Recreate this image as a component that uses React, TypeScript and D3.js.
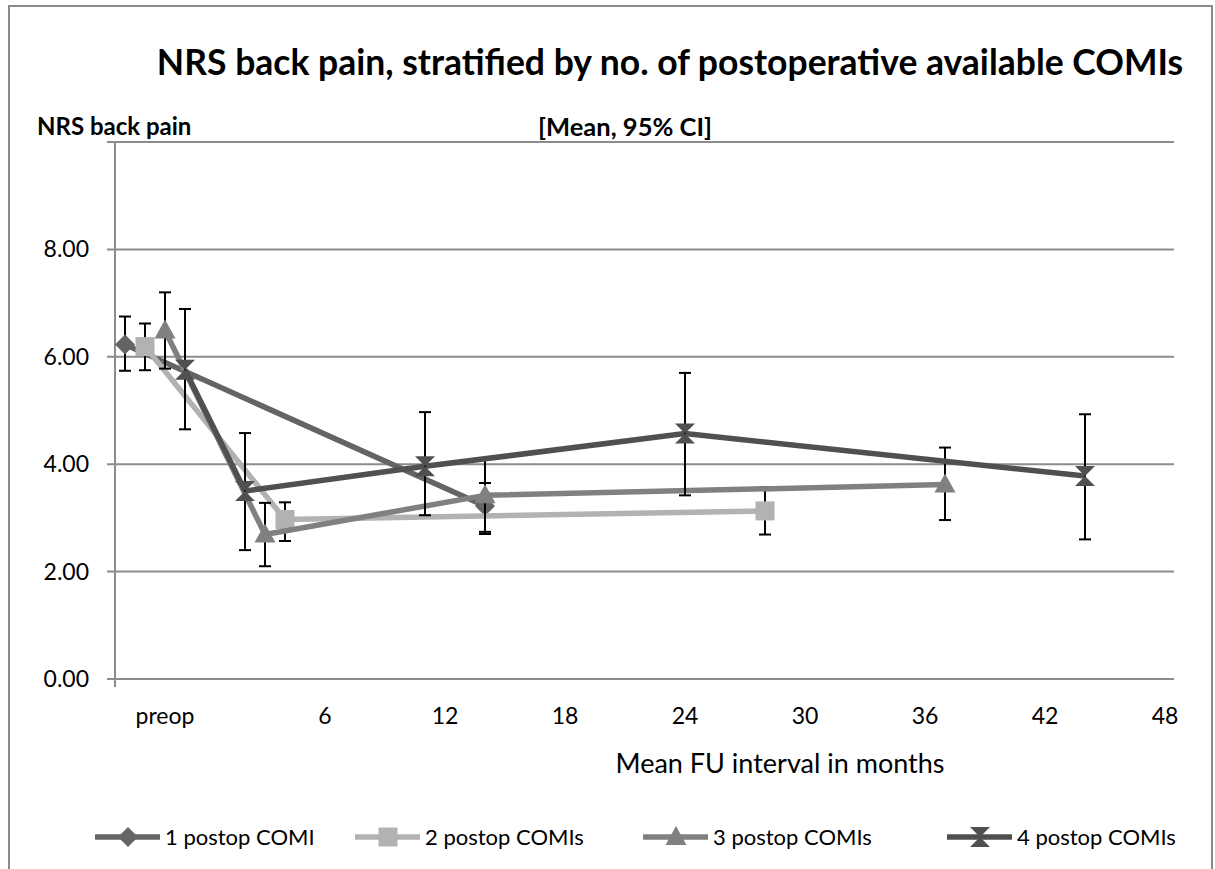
import React from "react"
import * as d3 from "d3"

// months after surgery; preop values are staggered left of zero
const s1X = [-4, 14]
const s1Mean = [6.23, 3.22]
const s1Lo = [5.74, 2.74]
const s1Hi = [6.75, 3.65]

const s2X = [-3, 4, 28]
const s2Mean = [6.19, 2.97, 3.13]
const s2Lo = [5.75, 2.57, 2.69]
const s2Hi = [6.62, 3.29, 3.57]

const s3X = [-2, 3, 14, 37]
const s3Mean = [6.49, 2.69, 3.42, 3.62]
const s3Lo = [5.78, 2.1, 2.7, 2.96]
const s3Hi = [7.2, 3.28, 4.1, 4.31]

const s4X = [-1, 2, 11, 24, 44]
const s4Mean = [5.76, 3.5, 3.96, 4.57, 3.78]
const s4Lo = [4.65, 2.4, 3.05, 3.42, 2.6]
const s4Hi = [6.89, 4.58, 4.97, 5.7, 4.93]

const seriesNames = ["1 postop COMI", "2 postop COMIs", "3 postop COMIs", "4 postop COMIs"]
const xTickValues = [-2, 6, 12, 18, 24, 30, 36, 42, 48]
const xTickLabels = ["preop", "6", "12", "18", "24", "30", "36", "42", "48"]
const yTickValues = [0, 2, 4, 6, 8]
const yGridValues = [0, 2, 4, 6, 8, 10]

const FONT = "Lato, 'Open Sans', sans-serif"

type Marker = "diamond" | "square" | "triangle" | "hourglass"

const styles: { color: string; marker: Marker }[] = [
  { color: "#646464", marker: "diamond" },
  { color: "#b2b2b2", marker: "square" },
  { color: "#808080", marker: "triangle" },
  { color: "#505050", marker: "hourglass" },
]

const makeSeries = (xs: number[], m: number[], lo: number[], hi: number[]) =>
  xs.map((x, i) => ({ x, mean: m[i], lo: lo[i], hi: hi[i] }))

const series = [
  makeSeries(s1X, s1Mean, s1Lo, s1Hi),
  makeSeries(s2X, s2Mean, s2Lo, s2Hi),
  makeSeries(s3X, s3Mean, s3Lo, s3Hi),
  makeSeries(s4X, s4Mean, s4Lo, s4Hi),
]

const markerPath = (kind: Marker, cx: number, cy: number) => {
  switch (kind) {
    case "diamond":
      return `M${cx},${cy - 10}L${cx + 10},${cy}L${cx},${cy + 10}L${cx - 10},${cy}Z`
    case "square":
      return `M${cx - 9.5},${cy - 9.5}h19v19h-19Z`
    case "triangle":
      return `M${cx},${cy - 11}L${cx + 10.5},${cy + 8}L${cx - 10.5},${cy + 8}Z`
    case "hourglass":
      return `M${cx - 10},${cy - 10}L${cx + 10},${cy - 10}L${cx},${cy}L${cx + 10},${cy + 10}L${cx - 10},${cy + 10}L${cx},${cy}Z`
  }
}

export default function App() {
  const W = 1215
  const H = 869
  const left = 115
  const right = 1174
  const top = 142
  const bottom = 679

  const x = d3.scaleLinear().domain([-4.5, 48.45]).range([left, right])
  const y = d3.scaleLinear().domain([0, 10]).range([bottom, top])
  const line = d3
    .line<{ x: number; mean: number }>()
    .x((d) => x(d.x))
    .y((d) => y(d.mean))

  const legendX = [95, 355, 643, 947]
  const legendY = 837

  return (
    <svg
      width={W}
      height={H}
      style={{ position: "absolute", left: 0, top: 0, background: "#fff" }}
      fontFamily={FONT}
    >
      <rect x={9} y={6} width={1203} height={H + 20} fill="#fff" stroke="#8a8a8a" strokeWidth={2} />

      <text x={670} y={75} textAnchor="middle" fontSize={35.5} fontWeight="bold" fill="#000">
        NRS back pain, stratified by no. of postoperative available COMIs
      </text>
      <text x={37} y={135} fontSize={24} fontWeight="bold" fill="#000">
        NRS back pain
      </text>
      <text x={625} y={136} textAnchor="middle" fontSize={25.5} fontWeight="bold" fill="#000">
        [Mean, 95% CI]
      </text>

      {yGridValues.map((v) => (
        <line key={v} x1={left - 8} x2={right} y1={y(v)} y2={y(v)} stroke="#8c8c8c" strokeWidth={2} />
      ))}
      <line x1={left} x2={left} y1={top} y2={bottom + 8} stroke="#8c8c8c" strokeWidth={2} />

      {yTickValues.map((v) => (
        <text key={v} x={89} y={y(v) + 8} textAnchor="end" fontSize={23} fill="#000">
          {v.toFixed(2)}
        </text>
      ))}
      {xTickValues.map((v, i) => (
        <text key={v} x={x(v)} y={724} textAnchor="middle" fontSize={23} fill="#000">
          {xTickLabels[i]}
        </text>
      ))}
      <text x={780} y={773} textAnchor="middle" fontSize={27} fill="#000">
        Mean FU interval in months
      </text>

      {series.map((s, si) => (
        <g key={si}>
          <path d={line(s) || ""} fill="none" stroke={styles[si].color} strokeWidth={5.5} strokeLinejoin="round" />
          {s.map((d, i) => (
            <g key={i} stroke="#000" strokeWidth={2}>
              <line x1={x(d.x)} x2={x(d.x)} y1={y(d.hi)} y2={y(d.lo)} />
              <line x1={x(d.x) - 6} x2={x(d.x) + 6} y1={y(d.hi)} y2={y(d.hi)} />
              <line x1={x(d.x) - 6} x2={x(d.x) + 6} y1={y(d.lo)} y2={y(d.lo)} />
            </g>
          ))}
          {s.map((d, i) => (
            <path key={i} d={markerPath(styles[si].marker, x(d.x), y(d.mean))} fill={styles[si].color} />
          ))}
        </g>
      ))}

      {seriesNames.map((name, i) => (
        <g key={name}>
          <line x1={legendX[i]} x2={legendX[i] + 65} y1={legendY} y2={legendY} stroke={styles[i].color} strokeWidth={5.5} />
          <path d={markerPath(styles[i].marker, legendX[i] + 33, legendY)} fill={styles[i].color} />
          <text x={legendX[i] + 70} y={legendY + 8} fontSize={22} fill="#000">
            {name}
          </text>
        </g>
      ))}
    </svg>
  )
}
